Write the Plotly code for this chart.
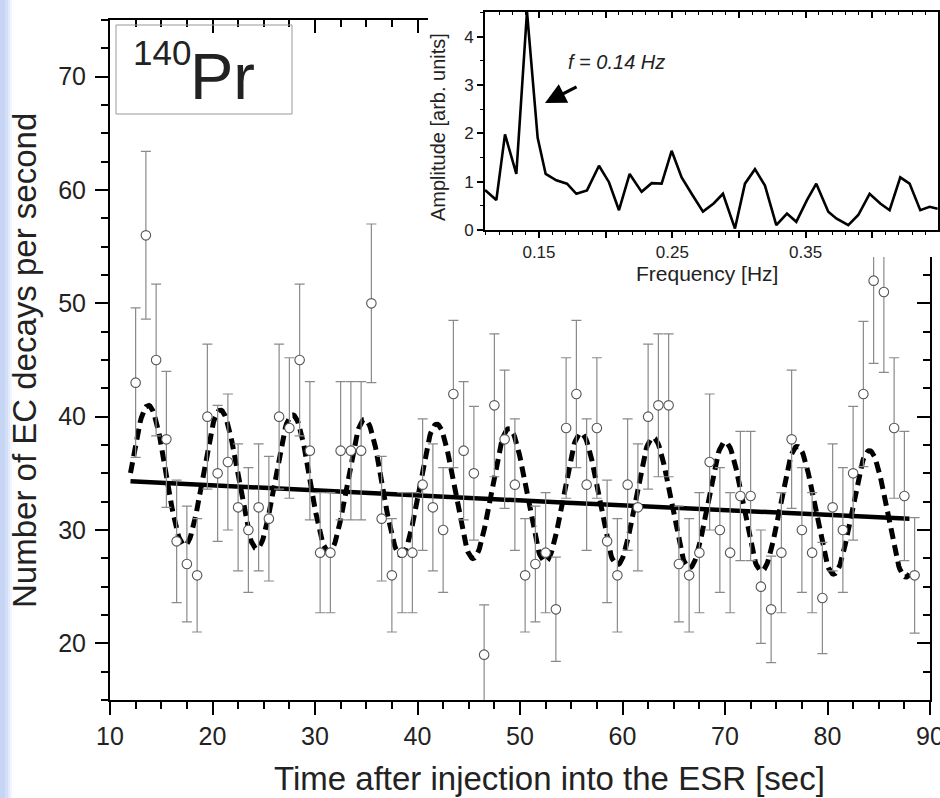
import numpy as np
import plotly.graph_objects as go

# ---------------- data ----------------
time_s = [12.5, 13.5, 14.5, 15.5, 16.5, 17.5, 18.5, 19.5, 20.5, 21.5,
          22.5, 23.5, 24.5, 25.5, 26.5, 27.5, 28.5, 29.5, 30.5, 31.5,
          32.5, 33.5, 34.5, 35.5, 36.5, 37.5, 38.5, 39.5, 40.5, 41.5,
          42.5, 43.5, 44.5, 45.5, 46.5, 47.5, 48.5, 49.5, 50.5, 51.5,
          52.5, 53.5, 54.5, 55.5, 56.5, 57.5, 58.5, 59.5, 60.5, 61.5,
          62.5, 63.5, 64.5, 65.5, 66.5, 67.5, 68.5, 69.5, 70.5, 71.5,
          72.5, 73.5, 74.5, 75.5, 76.5, 77.5, 78.5, 79.5, 80.5, 81.5,
          82.5, 83.5, 84.5, 85.5, 86.5, 87.5, 88.5]
decays = [43, 56, 45, 38, 29, 27, 26, 40, 35, 36,
          32, 30, 32, 31, 40, 39, 45, 37, 28, 28,
          37, 37, 37, 50, 31, 26, 28, 28, 34, 32,
          30, 42, 37, 35, 19, 41, 38, 34, 26, 27,
          28, 23, 39, 42, 34, 39, 29, 26, 34, 32,
          40, 41, 41, 27, 26, 28, 36, 30, 28, 33,
          33, 25, 23, 28, 38, 30, 28, 24, 32, 30,
          35, 42, 52, 51, 39, 33, 26]
decay_err = [6.6, 7.4, 6.7, 6.0, 5.4, 5.1, 5.0, 6.4, 6.0, 6.0,
             5.6, 5.5, 5.6, 5.5, 6.4, 6.2, 6.7, 6.1, 5.3, 5.3,
             6.1, 6.1, 6.1, 7.0, 5.5, 5.0, 5.3, 5.3, 5.8, 5.6,
             5.5, 6.5, 6.1, 5.9, 4.4, 6.3, 6.1, 5.8, 5.0, 5.1,
             5.3, 4.6, 6.2, 6.5, 5.8, 6.2, 5.4, 5.0, 5.8, 5.6,
             6.4, 6.3, 6.3, 5.1, 5.0, 5.3, 6.0, 5.5, 5.3, 5.7,
             5.7, 5.0, 4.7, 5.3, 6.1, 5.5, 5.3, 4.9, 5.6, 5.5,
             5.9, 6.4, 7.3, 7.1, 6.2, 5.7, 5.1]

# fit parameters (exponential decay, and decay with periodic modulation)
fit_t_start, fit_t_end = 12.0, 88.0
exp_N0, exp_lambda = 34.85, 0.00133
mod_N0, mod_lambda = 35.6, 0.00146
mod_amp, mod_omega, mod_phase = 0.175, 0.8931, 0.286

# FFT inset
freq_hz = [0.1095, 0.118, 0.1245, 0.133, 0.141, 0.149, 0.155, 0.163, 0.171, 0.178,
           0.186, 0.195, 0.2025, 0.210, 0.218, 0.227, 0.2345, 0.242, 0.2495, 0.257,
           0.2645, 0.273, 0.281, 0.288, 0.297, 0.3045, 0.312, 0.3195, 0.328, 0.336,
           0.343, 0.351, 0.358, 0.367, 0.373, 0.382, 0.3895, 0.398, 0.406, 0.413,
           0.421, 0.428, 0.436, 0.443, 0.449]
amplitude = [0.83, 0.62, 1.98, 1.16, 4.52, 1.91, 1.16, 1.03, 0.96, 0.75,
             0.82, 1.33, 0.99, 0.41, 1.16, 0.79, 0.97, 0.96, 1.64, 1.09,
             0.75, 0.38, 0.55, 0.75, 0.03, 0.96, 1.26, 0.92, 0.10, 0.34,
             0.17, 0.62, 0.96, 0.38, 0.24, 0.10, 0.31, 0.75, 0.55, 0.41,
             1.09, 0.96, 0.41, 0.48, 0.44]
inset_xticks = [0.15, 0.20, 0.25, 0.30, 0.35, 0.40, 0.45]
inset_xticktext = ["0.15", "", "0.25", "", "0.35", "", ""]

# ---------------- layout helpers ----------------
W, H = 940, 798
ML, MR, MT, MB = 110, 0, 0, 98
PW, PH = W - ML - MR, H - MT - MB


def px_x(px):
    return (px - ML) / PW


def px_y(py):
    return (H - MB - py) / PH


FONT = "Liberation Sans, Arial, sans-serif"
TXT = "#222222"

t_fit = np.linspace(fit_t_start, fit_t_end, 800)
exp_fit = exp_N0 * np.exp(-exp_lambda * t_fit)
mod_fit = mod_N0 * np.exp(-mod_lambda * t_fit) * (1 + mod_amp * np.cos(mod_omega * t_fit + mod_phase))

fig = go.Figure()

fig.add_trace(go.Scatter(x=t_fit, y=exp_fit, mode="lines",
                         line=dict(color="black", width=4.5),
                         hoverinfo="skip", showlegend=False))
fig.add_trace(go.Scatter(x=t_fit, y=mod_fit, mode="lines",
                         line=dict(color="black", width=5, dash="11px,6px"),
                         hoverinfo="skip", showlegend=False))
fig.add_trace(go.Scatter(
    x=time_s, y=decays, mode="markers",
    marker=dict(symbol="circle", size=9.5, color="white",
                line=dict(color="#555555", width=1.1)),
    error_y=dict(type="data", array=decay_err, visible=True,
                 color="#8a8a8a", thickness=1.2, width=5),
    showlegend=False))

# empty traces so that the mirrored (inward-tick) axes are created
for xa, ya in [("x4", "y"), ("x", "y4"), ("x2", "y2")]:
    fig.add_trace(go.Scatter(x=[None], y=[None], xaxis=xa, yaxis=ya,
                             showlegend=False, hoverinfo="skip"))

# inset spectrum
fig.add_trace(go.Scatter(x=freq_hz, y=amplitude, mode="lines", xaxis="x3", yaxis="y3",
                         line=dict(color="black", width=2.6),
                         showlegend=False, hoverinfo="skip"))
fig.add_trace(go.Scatter(x=[None], y=[None], xaxis="x5", yaxis="y3",
                         showlegend=False, hoverinfo="skip"))

main_ax = dict(showgrid=False, zeroline=False, showline=True, linecolor="black", linewidth=2,
               ticks="outside", ticklen=13, tickwidth=2, tickcolor="black", automargin=False,
               tickfont=dict(family=FONT, size=25, color=TXT))
mirror_ax = dict(showgrid=False, zeroline=False, showline=True, linecolor="black", linewidth=2,
                 ticks="inside", ticklen=13, tickwidth=2, tickcolor="black", automargin=False,
                 tickmode="linear", tick0=10, dtick=10, showticklabels=False,
                 minor=dict(dtick=2.5, ticklen=7, tickwidth=2, tickcolor="black", ticks="inside"))

fig.update_layout(
    width=W, height=H,
    margin=dict(l=ML, r=MR, t=MT, b=MB, autoexpand=False),
    paper_bgcolor="white", plot_bgcolor="white",
    showlegend=False,
    xaxis=dict(main_ax, domain=[0, px_x(930)], range=[10, 90], anchor="y",
               tickmode="linear", tick0=10, dtick=10, ticklabeloverflow="allow",
               minor=dict(dtick=2.5, ticklen=7, tickwidth=2, tickcolor="black", ticks="outside")),
    yaxis=dict(main_ax, domain=[0, px_y(20)], range=[15, 75], anchor="x",
               tickmode="linear", tick0=10, dtick=10,
               minor=dict(dtick=2.5, ticklen=7, tickwidth=2, tickcolor="black", ticks="outside"),
               ticklabelstandoff=4),
    xaxis4=dict(mirror_ax, overlaying="x", anchor="y", side="top", range=[10, 90]),
    yaxis4=dict(mirror_ax, overlaying="y", anchor="x", side="right", range=[15, 75]),
    xaxis2=dict(domain=[px_x(428), 1.0], anchor="y2", range=[0, 1], visible=False),
    yaxis2=dict(domain=[px_y(257), 1.0], anchor="x2", range=[0, 1], visible=False),
    xaxis3=dict(domain=[px_x(485), px_x(938)], anchor="y3", range=[0.1095, 0.4493],
                showgrid=False, zeroline=False, showline=True, mirror=True, automargin=False,
                linecolor="black", linewidth=2,
                tickmode="array", tickvals=inset_xticks, ticktext=inset_xticktext,
                ticks="outside", ticklen=6, tickwidth=1.5, tickcolor="black",
                minor=dict(dtick=0.01, ticklen=3, tickwidth=1.2, tickcolor="black", ticks="outside"),
                tickfont=dict(family=FONT, size=17, color=TXT)),
    yaxis3=dict(domain=[px_y(230), px_y(11.7)], anchor="x3", range=[0, 4.52],
                showgrid=False, zeroline=False, showline=True, mirror=True, automargin=False,
                linecolor="black", linewidth=2,
                tickmode="linear", tick0=0, dtick=1,
                ticks="outside", ticklen=6, tickwidth=1.5, tickcolor="black",
                minor=dict(dtick=0.5, ticklen=3, tickwidth=1.2, tickcolor="black", ticks="outside"),
                tickfont=dict(family=FONT, size=17, color=TXT)),
    xaxis5=dict(overlaying="x3", anchor="y3", side="top", range=[0.1095, 0.4493],
                showgrid=False, zeroline=False, showline=False, automargin=False,
                tickmode="array", tickvals=inset_xticks, showticklabels=False,
                ticks="inside", ticklen=6, tickwidth=1.5, tickcolor="black",
                minor=dict(dtick=0.01, ticklen=3, tickwidth=1.2, tickcolor="black", ticks="inside")),
)

# left light-blue strip (slide background)
for x0, x1, col in [(0, 5, "#c7d5f5"), (5, 8, "#d3def8"), (8, 10, "#e3eafb"), (10, 12, "#f1f5fd")]:
    fig.add_shape(type="rect", xref="paper", yref="paper",
                  x0=px_x(x0), x1=px_x(x1), y0=px_y(H), y1=px_y(0),
                  fillcolor=col, line=dict(width=0), layer="below")

# nuclide label box
fig.add_shape(type="rect", xref="paper", yref="paper",
              x0=px_x(116), x1=px_x(292), y0=px_y(114), y1=px_y(25),
              line=dict(color="#999999", width=1), fillcolor="rgba(0,0,0,0)")

annotations = [
    dict(text="140", x=px_x(131), y=px_y(52), xanchor="left", yanchor="middle",
         font=dict(family=FONT, size=35, color=TXT)),
    dict(text="Pr", x=px_x(188), y=px_y(77), xanchor="left", yanchor="middle",
         font=dict(family=FONT, size=65, color=TXT)),
    dict(text="Time after injection into the ESR [sec]", x=px_x(549), y=px_y(778),
         xanchor="center", yanchor="middle", font=dict(family=FONT, size=33, color=TXT)),
    dict(text="Number of EC decays per second", x=px_x(24), y=px_y(361), textangle=-90,
         xanchor="center", yanchor="middle", font=dict(family=FONT, size=33, color=TXT)),
    dict(text="Frequency [Hz]", x=px_x(707), y=px_y(273),
         xanchor="center", yanchor="middle", font=dict(family=FONT, size=21, color=TXT)),
    dict(text="Amplitude [arb. units]", x=px_x(438), y=px_y(127), textangle=-90,
         xanchor="center", yanchor="middle", font=dict(family=FONT, size=20, color=TXT)),
]
for a in annotations:
    a.update(xref="paper", yref="paper", showarrow=False)
    fig.add_annotation(**a)

fig.add_annotation(text="<i>f = 0.14 Hz</i>", xref="x3", yref="y3", x=0.2085, y=3.48,
                   showarrow=False, font=dict(family=FONT, size=20, color=TXT))
fig.add_annotation(text="", xref="x3", yref="y3", x=0.1545, y=2.63,
                   axref="x3", ayref="y3", ax=0.1793, ay=2.98,
                   showarrow=True, arrowhead=2, arrowsize=1.3, arrowwidth=3.2,
                   arrowcolor="black", standoff=0)

fig.write_html("out.html")
